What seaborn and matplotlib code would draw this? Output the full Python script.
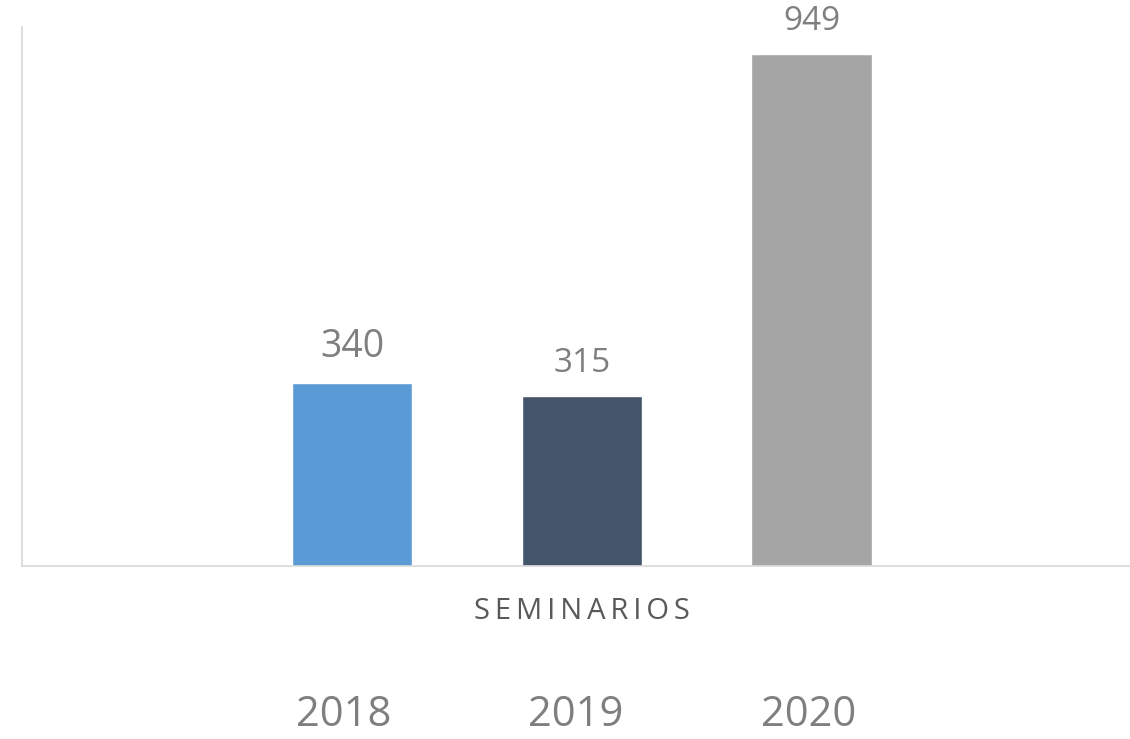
import pandas as pd
import seaborn as sns
import matplotlib.pyplot as plt

# Seminarios por año
categoria = ["SEMINARIOS", "SEMINARIOS", "SEMINARIOS"]
anios = ["2018", "2019", "2020"]
valores = [340, 315, 949]
colores = ["#5B9BD5", "#44546A", "#A5A5A5"]

df = pd.DataFrame({"categoria": categoria, "anio": anios, "valor": valores})

sns.set_style("white")
plt.rcParams["font.family"] = ["Open Sans", "DejaVu Sans"]

fig = plt.figure(figsize=(11.3, 7.39), dpi=100)
ax = fig.add_axes([22 / 1130, 173 / 739, 1 - 22 / 1130, (566 - 27) / 739])

sns.barplot(data=df, x="categoria", y="valor", hue="anio", palette=colores,
            gap=0.474, ax=ax, saturation=1)

ax.set_ylim(0, 1000)
ax.set_xlim(-0.6493, 0.6354)
ax.set_xlabel("")
ax.set_ylabel("")
ax.set_yticks([])
ax.set_xticks([0])
ax.set_xticklabels(["\u2009".join("SEMINARIOS")], fontsize=21, color="#595959")
ax.tick_params(axis="x", length=0, pad=22)

for s in ["top", "right"]:
    ax.spines[s].set_visible(False)
for s in ["left", "bottom"]:
    ax.spines[s].set_color("#d9d9d9")
    ax.spines[s].set_linewidth(1.2)

# etiquetas de valores
tamanos = [27, 24, 24]
for cont, t in zip(ax.containers, tamanos):
    ax.bar_label(cont, fontsize=t, color="#7f7f7f", padding=12)

sns.move_legend(ax, "center", bbox_to_anchor=(0.5, -0.276), ncol=3, frameon=False,
                handlelength=0, handletextpad=0, columnspacing=3.3, fontsize=30,
                title=None)
leg = ax.get_legend()
for h in leg.legend_handles:
    h.set_visible(False)
for t in leg.get_texts():
    t.set_color("#7f7f7f")

plt.savefig("out.png", dpi=100)
